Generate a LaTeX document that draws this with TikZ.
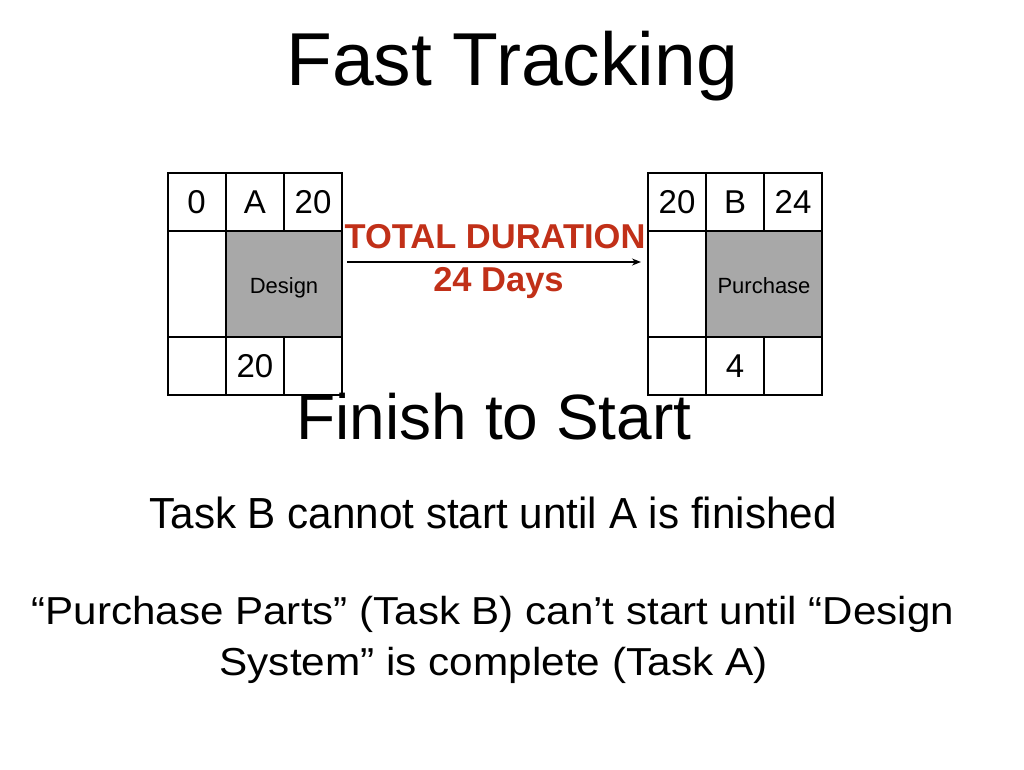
\documentclass[tikz,border=0pt]{standalone}
\usepackage{fontspec}
\setmainfont{Liberation Sans}
\usetikzlibrary{arrows.meta}
\definecolor{durred}{RGB}{193,48,24}
\definecolor{taskgray}{RGB}{168,168,168}
\newcommand{\fs}[1]{\fontsize{#1}{#1}\selectfont}
\tikzset{
  cell/.style={draw=black, line width=2pt, inner sep=0pt, minimum width=58pt, minimum height=58pt, font=\fs{33}},
  midcell/.style={cell, minimum height=106pt},
  graycell/.style={cell, fill=taskgray, minimum width=116pt, minimum height=106pt, font=\fs{22}, text height=18pt, text depth=0pt},
  title/.style={anchor=base, font=\fs{75}},
  bodytext/.style={anchor=base, font=\fs{43.5}},
  notetext/.style={anchor=base, font=\fs{39}},
}
\begin{document}
\begin{tikzpicture}[x=1pt, y=-1pt]
\useasboundingbox (0,0) rectangle (1024,769);
\node[title] (ttl) at (512,85) {Fast Tracking};
% Task A
\node[cell] (a11) at (196.5,202) {0};
\node[cell] (a12) at (255,202) {A};
\node[cell] (a13) at (313,202) {20};
\node[midcell] (a21) at (196.5,284) {};
\node[graycell] (a22) at (284,284) {Design};
\node[cell] (a31) at (196.5,366) {};
\node[cell] (a32) at (255,366) {20};
\node[cell] (a33) at (313,366) {};
% Task B
\node[cell] (b11) at (677,202) {20};
\node[cell] (b12) at (735,202) {B};
\node[cell] (b13) at (793,202) {24};
\node[midcell] (b21) at (677,284) {};
\node[graycell] (b22) at (764,284) {Purchase};
\node[cell] (b31) at (677,366) {};
\node[cell] (b32) at (735,366) {4};
\node[cell] (b33) at (793,366) {};
% connector
\coordinate (arry) at (0,262);
\draw[line width=2pt, -{Stealth[length=9pt,width=7pt]}] ([xshift=4pt]a22.east |- arry) -- ([xshift=-6pt]b21.west |- arry);
\node[anchor=base, text=durred, font=\bfseries\fs{34.5}] (dur) at (495,248) {TOTAL DURATION};
\node[anchor=base, text=durred, font=\bfseries\fs{34.5}] (days) at (498.5,291) {24 Days};
\node[anchor=base, font=\fs{64}] (fts) at (494,439) {Finish to Start};
\node[bodytext] (l1) at (493,528.5) {\scalebox{0.97}[1]{Task B cannot start until A is finished}};
\node[notetext] (l2) at (493,624.5) {\scalebox{1.08}[1]{“Purchase Parts” (Task B) can’t start until “Design}};
\node[notetext] (l3) at (493.5,675.5) {\scalebox{1.085}[1]{System” is complete (Task A)}};
\end{tikzpicture}
\end{document}
